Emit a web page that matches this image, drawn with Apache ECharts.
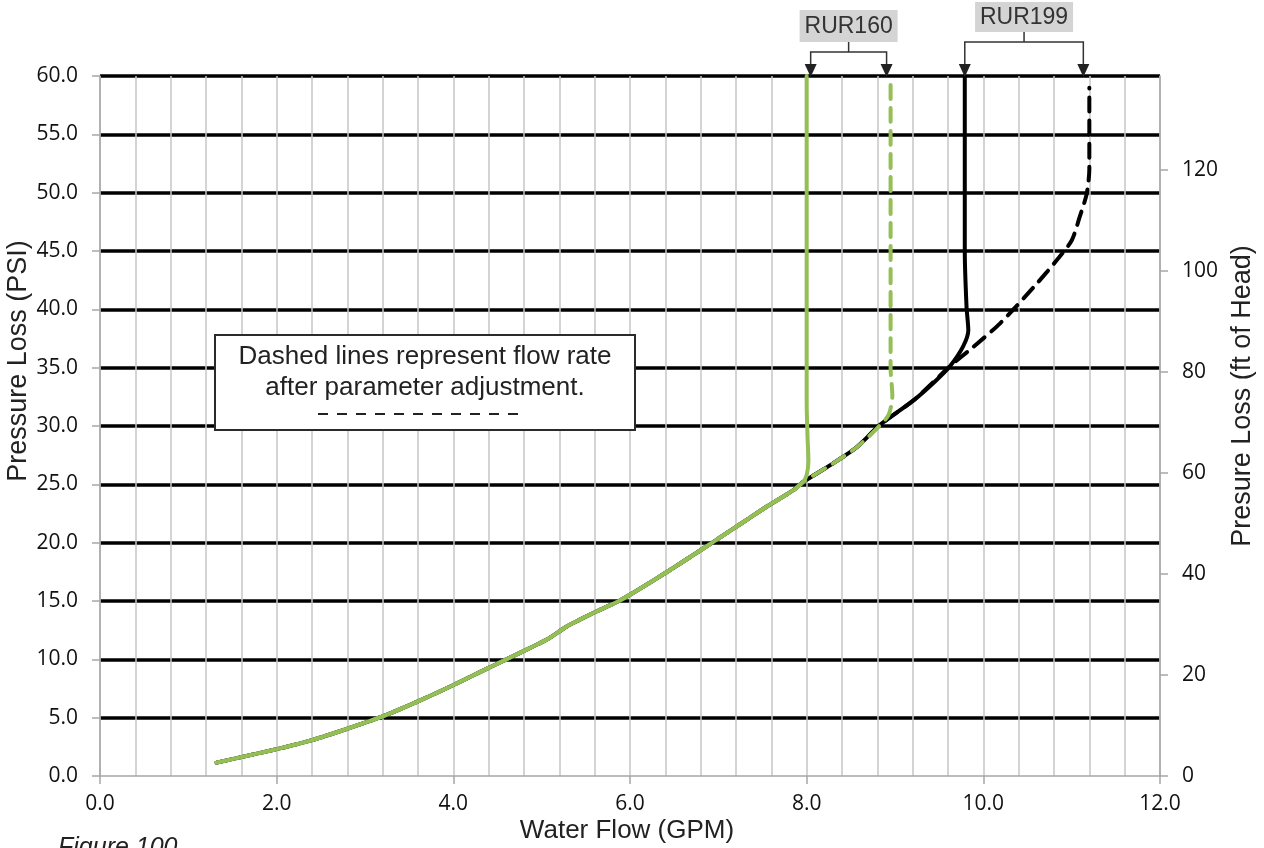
<!DOCTYPE html>
<html><head><meta charset="utf-8">
<script src="https://cdn.jsdelivr.net/npm/echarts@6/dist/echarts.min.js"></script>
<style>html,body{margin:0;padding:0;background:#fff}#c{width:1264px;height:848px}</style>
</head><body><div id="c"></div>
<script>
// ---- data (GPM, PSI) ----
const baseCurve = [[1.32,1.15],[2.0,2.3],[2.41,3.1],[2.8,4.05],[3.19,5.08],[3.6,6.4],[3.96,7.65],[4.3,8.9],[4.6,10.0],[5.06,11.7],[5.28,12.8],[5.62,14.1],[5.9,15.1],[6.4,17.4],[6.91,19.9],[7.25,21.6],[7.55,23.1],[7.85,24.5],[7.96,25.2]];
const rur160Solid = [[8.0,25.8],[8.02,27.0],[8.01,29.0],[8.0,32.0],[8.0,60.0]];
const rur160Dashed = [[8.3,26.8],[8.57,28.2],[8.81,29.9],[8.93,31.0],[8.97,32.6],[8.95,35.0],[8.95,59.7]];
const rur199Solid = [[8.3,26.8],[8.57,28.2],[8.83,30.1],[9.21,32.2],[9.45,33.8],[9.62,35.1],[9.77,36.8],[9.83,38.2],[9.81,40.2],[9.79,45.0],[9.79,60.0]];
const rur199Dashed = [[8.3,26.8],[8.57,28.2],[8.83,30.1],[9.21,32.2],[9.62,35.1],[9.89,36.8],[10.19,38.8],[10.57,41.9],[10.83,44.2],[11.0,45.9],[11.09,47.9],[11.17,49.9],[11.2,52.0],[11.2,59.0]];
const models = ['RUR160','RUR199'];
const modelFlows = [[8.0,8.95],[9.79,11.2]];
const xTitle = 'Water Flow (GPM)';
const yTitle = 'Pressure Loss (PSI)';
const y2Title = 'Presure Loss (ft of Head)';
const noteLines = ['Dashed lines represent flow rate','after parameter adjustment.'];
const figureLabel = 'Figure 100';

const GREEN = '#93bf55';
const labelFont = '"Open Sans", sans-serif';
const titleFont = '"Liberation Sans", Arial, sans-serif';

const chart = echarts.init(document.getElementById('c'), null, {renderer:'canvas'});
const splitColors = ['rgba(0,0,0,0)'].concat(new Array(12).fill('#000'));

function mk(name, pts, color, dashed, z){
  return {name, type:'line', data: baseCurve.concat(pts), showSymbol:false, smooth:0.25,
    lineStyle:{color, width:4, type: dashed ? [14,9] : 'solid', cap:'round'}, z, animation:false, silent:true};
}

chart.setOption({
  animation:false,
  grid:{left:100, right:104, top:76, bottom:72, containLabel:false},
  xAxis:{type:'value', min:0, max:12, interval:2,
    axisLine:{onZero:false, lineStyle:{color:'#a6a6a6', width:1.5}},
    axisTick:{show:true, length:8, lineStyle:{color:'#a6a6a6', width:1.5}},
    axisLabel:{formatter:v=>v.toFixed(1), color:'#111', fontFamily:labelFont, fontSize:21, margin:18},
    splitLine:{show:true, lineStyle:{color:'#c6c6c6', width:1.5}},
    minorSplitLine:{show:true, lineStyle:{color:'#c6c6c6', width:1.5}},
    minorTick:{show:false, splitNumber:5}
  },
  yAxis:[
    {type:'value', min:0, max:60, interval:5,
      axisLine:{show:true, lineStyle:{color:'#a6a6a6', width:1.5}},
      axisTick:{show:true, length:8, lineStyle:{color:'#a6a6a6', width:1.5}},
      axisLabel:{formatter:v=>v.toFixed(1), color:'#111', fontFamily:labelFont, fontSize:21, margin:22},
      splitLine:{show:true, lineStyle:{color:splitColors, width:3.5}}
    },
    {type:'value', min:0, max:138.6, interval:20, position:'right',
      axisLine:{show:true, lineStyle:{color:'#a6a6a6', width:1.5}},
      axisTick:{show:true, length:8, lineStyle:{color:'#a6a6a6', width:1.5}},
      axisLabel:{formatter:v=> (Math.abs(v % 20) < 1e-6 ? String(v) : ''), color:'#111', fontFamily:labelFont, fontSize:21, margin:22, showMaxLabel:false},
      splitLine:{show:false}
    }
  ],
  series:[
    mk('RUR199 adjusted', rur199Dashed, '#000', true, 2),
    mk('RUR199', rur199Solid, '#000', false, 3),
    mk('RUR160 adjusted', rur160Dashed, GREEN, true, 4),
    mk('RUR160', rur160Solid, GREEN, false, 5)
  ]
});

// annotations
const g = [];
g.push({type:'text', x:627, y:831, style:{text:xTitle, font:'26px '+titleFont, fill:'#222', textAlign:'center', textVerticalAlign:'middle'}});
g.push({type:'text', x:19, y:361, rotation:Math.PI/2, style:{text:yTitle, font:'27px '+titleFont, fill:'#222', textAlign:'center', textVerticalAlign:'middle'}});
g.push({type:'text', x:1243, y:396, rotation:Math.PI/2, style:{text:y2Title, font:'27px '+titleFont, fill:'#222', textAlign:'center', textVerticalAlign:'middle'}});
g.push({type:'text', left:58, top:836, style:{text:figureLabel, font:'italic 25px '+titleFont, fill:'#222'}});
// note box
g.push({type:'rect', shape:{x:215, y:335, width:420, height:95}, style:{fill:'#fff', stroke:'#2b2b2b', lineWidth:2}, z:100});
g.push({type:'text', x:425, y:357, style:{text:noteLines[0], font:'26px '+titleFont, fill:'#222', textAlign:'center', textVerticalAlign:'middle'}, z:101});
g.push({type:'text', x:425, y:388, style:{text:noteLines[1], font:'26px '+titleFont, fill:'#222', textAlign:'center', textVerticalAlign:'middle'}, z:101});
g.push({type:'line', shape:{x1:318, y1:414, x2:524, y2:414}, style:{stroke:'#222', lineWidth:2, lineDash:[10,9]}, z:101});
// model brackets
const boxTops = [10, 2];
const boxH = [32, 30];
models.forEach((m, i) => {
  const p1 = chart.convertToPixel({xAxisIndex:0, yAxisIndex:0}, [modelFlows[i][0], 60]);
  const p2 = chart.convertToPixel({xAxisIndex:0, yAxisIndex:0}, [modelFlows[i][1], 60]);
  const xa = p1[0] + (i===0 ? 4 : 0), xb = p2[0] + (i===1 ? -6 : -4);
  const cx = (xa + xb)/2;
  const top = boxTops[i], h = boxH[i];
  const barY = top + h + 10;
  g.push({type:'rect', shape:{x:cx-49, y:top, width:98, height:h}, style:{fill:'#d4d4d4'}, z:100});
  g.push({type:'text', x:cx, y:top + h/2 + 1, style:{text:m, font:'23px '+titleFont, fill:'#333', textAlign:'center', textVerticalAlign:'middle'}, z:101});
  g.push({type:'polyline', shape:{points:[[cx, top+h],[cx, barY]]}, style:{stroke:'#333', lineWidth:1.5}, z:101});
  g.push({type:'polyline', shape:{points:[[xa, 68],[xa, barY],[xb, barY],[xb, 68]]}, style:{stroke:'#333', lineWidth:1.5, fill:null}, z:101});
  [xa, xb].forEach(x => {
    g.push({type:'polygon', shape:{points:[[x-6, 64],[x+6, 64],[x, 77]]}, style:{fill:'#222'}, z:102});
  });
});
chart.setOption({graphic:g});
</script>
</body></html>
